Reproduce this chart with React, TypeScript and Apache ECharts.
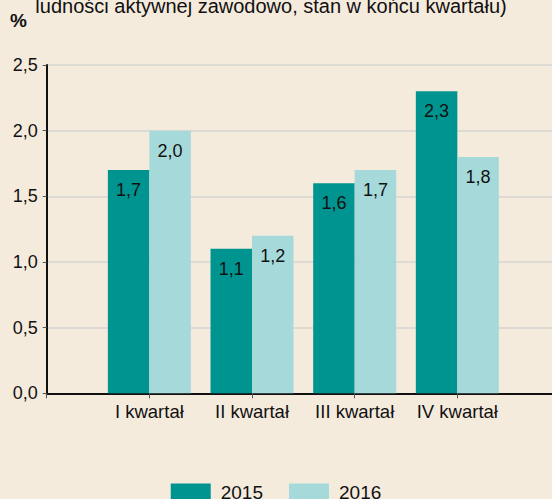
import React, { useEffect, useRef } from "react";
import * as echarts from "echarts";

const categories = ["I kwartał", "II kwartał", "III kwartał", "IV kwartał"];
const values2015 = [1.7, 1.1, 1.6, 2.3];
const values2016 = [2.0, 1.2, 1.7, 1.8];
const seriesNames = ["2015", "2016"];
const yTicks = { min: 0, max: 2.5, interval: 0.5 };
const titleText = "ludności aktywnej zawodowo, stan w końcu kwartału)";
const unitText = "%";

const FONT = "Liberation Sans";
const fmt = (v: number) => v.toFixed(1).replace(".", ",");

export default function App() {
  const ref = useRef<HTMLDivElement>(null);
  useEffect(() => {
    if (!ref.current) return;
    const chart = echarts.init(ref.current, null, { renderer: "svg" });
    const axisCats = ["", ...categories, ""];
    const pad = (arr: number[]) => [null, ...arr, null];
    const labelCfg = {
      show: true,
      position: "insideTop" as const,
      distance: 11,
      color: "#111",
      fontSize: 18,
      fontFamily: FONT,
      formatter: (p: any) => fmt(p.value),
    };
    chart.setOption({
      animation: false,
      backgroundColor: "#f5ebdd",
      textStyle: { fontFamily: FONT },
      grid: {
        left: 46.7,
        top: 65,
        bottom: 105.7,
        right: -8,
        containLabel: false,
        outerBoundsMode: "none",
      },
      graphic: [
        {
          type: "text",
          x: 271,
          y: -4,
          style: {
            text: titleText,
            font: `20px ${FONT}`,
            fill: "#111",
            textAlign: "center",
          },
        },
        {
          type: "text",
          x: 10,
          y: 11,
          style: {
            text: unitText,
            font: `bold 19px ${FONT}`,
            fill: "#111",
          },
        },
      ],
      legend: {
        bottom: -8,
        left: "center",
        itemWidth: 40,
        itemHeight: 18,
        itemGap: 26,
        icon: "rect",
        textStyle: { fontSize: 19, color: "#111", fontFamily: FONT, padding: [0, 0, 0, 5] },
        data: seriesNames,
      },
      xAxis: {
        type: "category",
        data: axisCats,
        boundaryGap: false,
        axisLine: { lineStyle: { color: "#111", width: 2 } },
        axisTick: { show: true, interval: 0, length: 5, lineStyle: { color: "#555" } },
        axisLabel: { interval: 0, fontSize: 18.5, color: "#111", margin: 9, fontFamily: FONT },
        splitLine: { show: false },
      },
      yAxis: {
        type: "value",
        min: yTicks.min,
        max: yTicks.max,
        interval: yTicks.interval,
        axisLine: { show: true, lineStyle: { color: "#111", width: 2 } },
        axisTick: { show: true, length: 4, lineStyle: { color: "#555" } },
        axisLabel: {
          fontSize: 18,
          color: "#111",
          margin: 9,
          fontFamily: FONT,
          formatter: (v: number) => fmt(v),
        },
        splitLine: { show: true, lineStyle: { color: "#dedad4", width: 2 } },
      },
      series: [
        {
          name: seriesNames[0],
          type: "bar",
          data: pad(values2015),
          barWidth: 41.5,
          barGap: "0%",
          itemStyle: { color: "#009490" },
          label: labelCfg,
        },
        {
          name: seriesNames[1],
          type: "bar",
          data: pad(values2016),
          barWidth: 41.5,
          barGap: "0%",
          itemStyle: { color: "#a6dada" },
          label: labelCfg,
        },
      ],
    });
    return () => chart.dispose();
  }, []);
  return (
    <div
      ref={ref}
      style={{ position: "absolute", left: 0, top: 0, width: 552, height: 499 }}
    />
  );
}
